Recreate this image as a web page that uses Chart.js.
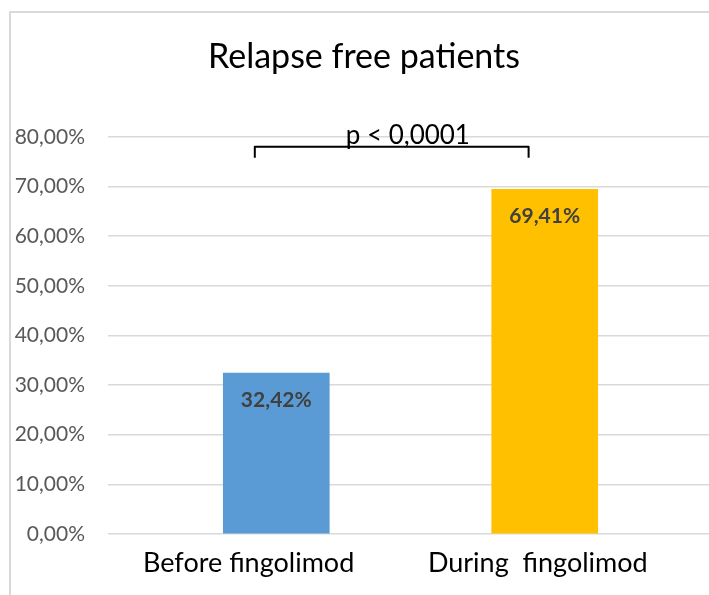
<!doctype html>
<html lang="en">
<head>
  <meta charset="UTF-8">
  <title>Relapse free patients</title>
  <script src="https://cdn.jsdelivr.net/npm/chart.js"></script>
  <style>
    html, body {
      margin: 0;
      padding: 0;
      background: #fff;
      overflow: hidden;
    }
    #chart {
      display: block;
    }
  </style>
</head>
<body>
  <canvas id="chart" width="728" height="595"></canvas>
<script>
  // Chart data
  const categories = ['Before fingolimod        ', 'During  fingolimod  '];
  const relapseFree = [32.42, 69.41];
  const barColors = ['#5B9BD5', '#FFC000'];
  const yTicks = [0, 10, 20, 30, 40, 50, 60, 70, 80];

  // significance bracket (in data units)
  const pText = 'p < 0,0001';
  const bracketFrom = 0.92, bracketTo = 1.94;
  const bracketTop = 78.0, bracketBottom = 75.8;
  const pTextX = 1.49, pTextY = 80.3;

  const pct = v => v.toFixed(2).replace('.', ',') + '%';

  // frame around the chart (cut off at right and bottom)
  const framePlugin = {
    id: 'frame',
    beforeDraw(chart) {
      const ctx = chart.ctx;
      ctx.save();
      ctx.fillStyle = '#fff';
      ctx.fillRect(0, 0, chart.width, chart.height);
      ctx.strokeStyle = '#d9d9d9';
      ctx.lineWidth = 2;
      ctx.strokeRect(10, 12, chart.width + 20, chart.height + 20);
      ctx.restore();
    }
  };

  // value labels inside the bars + p-value bracket
  const labelPlugin = {
    id: 'labels',
    afterDraw(chart) {
      const ctx = chart.ctx;
      const meta = chart.getDatasetMeta(0);
      ctx.save();
      ctx.font = 'bold 21px Lato';
      ctx.fillStyle = '#404040';
      ctx.textAlign = 'center';
      ctx.textBaseline = 'middle';
      meta.data.forEach((bar, i) => {
        ctx.fillText(pct(relapseFree[i]), bar.x, bar.y + 27);
      });

      const x = chart.scales.x, y = chart.scales.y;
      const x1 = x.getPixelForValue(bracketFrom), x2 = x.getPixelForValue(bracketTo);
      const yt = y.getPixelForValue(bracketTop), yb = y.getPixelForValue(bracketBottom);
      ctx.strokeStyle = '#000';
      ctx.lineWidth = 2;
      ctx.lineJoin = 'round';
      ctx.beginPath();
      ctx.moveTo(x1, yb);
      ctx.lineTo(x1, yt);
      ctx.lineTo(x2, yt);
      ctx.lineTo(x2, yb);
      ctx.stroke();

      ctx.font = '26px Lato';
      ctx.fillStyle = '#000';
      ctx.fillText(pText, x.getPixelForValue(pTextX), y.getPixelForValue(pTextY));
      ctx.restore();
    }
  };

  const ctx = document.getElementById('chart').getContext('2d');
  const chart = new Chart(ctx, {
    type: 'bar',
    data: {
      datasets: [{
        label: 'Relapse free patients',
        data: relapseFree.map((v, i) => ({ x: i + 1, y: v })),
        backgroundColor: barColors,
        borderWidth: 0,
        barThickness: 106
      }]
    },
    options: {
      responsive: false,
      animation: false,
      layout: { padding: 0 },
      plugins: {
        legend: { display: false },
        tooltip: { enabled: false },
        title: {
          display: true,
          text: 'Relapse free patients',
          color: '#000',
          font: { family: 'Lato', size: 34, weight: 'normal', lineHeight: 1.2 },
          padding: { top: 37, bottom: 59 }
        }
      },
      scales: {
        x: {
          type: 'linear',
          offset: false,
          bounds: 'data',
          min: 0.3731,
          max: 2.6828,
          grid: { display: false },
          border: { display: false },
          afterBuildTicks: scale => {
            scale.ticks = categories.map((c, i) => ({ value: i + 1 }));
          },
          afterFit: scale => { scale.height = 61; },
          ticks: {
            autoSkip: false,
            maxRotation: 0,
            padding: 5,
            color: '#000',
            font: { family: 'Lato', size: 27 },
            callback: v => categories[v - 1]
          }
        },
        y: {
          min: 0,
          max: 80,
          afterBuildTicks: scale => {
            scale.ticks = yTicks.map(v => ({ value: v }));
          },
          afterFit: scale => { scale.width = 108; },
          border: { display: false },
          grid: { color: '#d9d9d9', lineWidth: 1.5, drawTicks: false },
          ticks: {
            padding: 23,
            color: '#595959',
            font: { family: 'Lato', size: 21 },
            callback: v => pct(v)
          }
        }
      }
    },
    plugins: [framePlugin, labelPlugin]
  });
</script>
</body>
</html>
